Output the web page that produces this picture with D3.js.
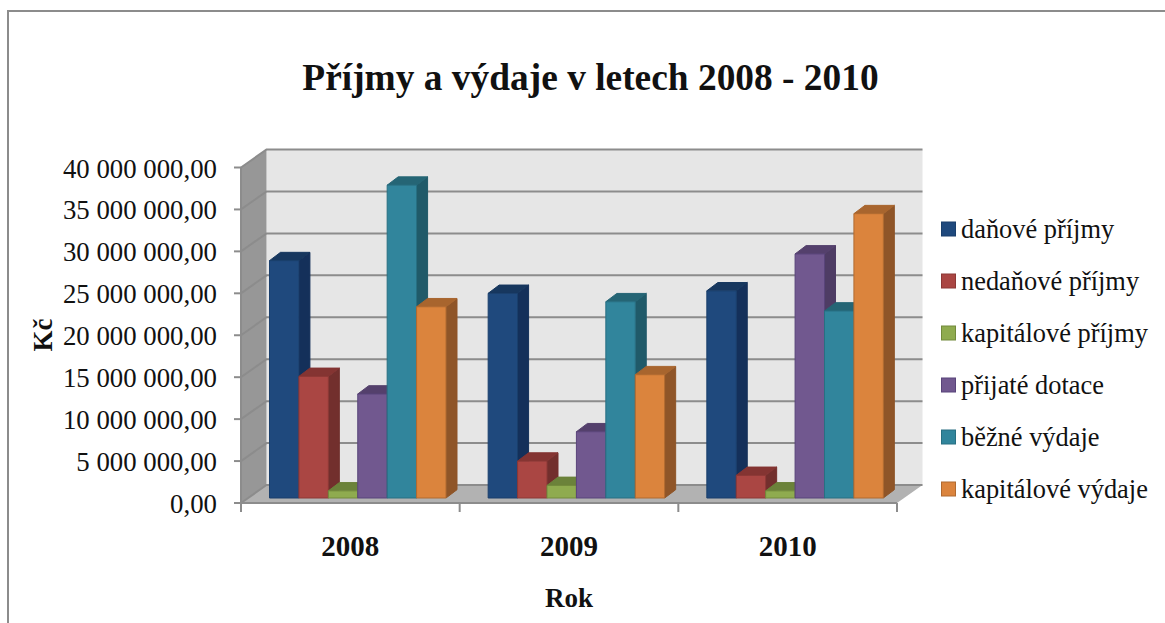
<!DOCTYPE html>
<html>
<head>
<meta charset="utf-8">
<title>Příjmy a výdaje v letech 2008 - 2010</title>
<style>
  html, body { margin: 0; padding: 0; background: #fff; }
  svg { display: block; }
  text { font-family: "Liberation Serif", serif; fill: #111; }
</style>
<script src="https://cdn.jsdelivr.net/npm/d3@7"></script>
</head>
<body>
<svg width="1165" height="623"></svg>
<script>
var years = ["2008", "2009", "2010"];
var seriesNames = ["daňové příjmy", "nedaňové příjmy", "kapitálové příjmy", "přijaté dotace", "běžné výdaje", "kapitálové výdaje"];
var danove = [28300000, 24400000, 24700000];
var nedanove = [14500000, 4400000, 2700000];
var kapitalovePrijmy = [850000, 1500000, 850000];
var dotace = [12400000, 7900000, 29100000];
var bezne = [37300000, 23400000, 22300000];
var kapitaloveVydaje = [22800000, 14700000, 33900000];
var yTicks = [0, 5000000, 10000000, 15000000, 20000000, 25000000, 30000000, 35000000, 40000000];
var tickLabels = ["0,00", "5 000 000,00", "10 000 000,00", "15 000 000,00", "20 000 000,00", "25 000 000,00", "30 000 000,00", "35 000 000,00", "40 000 000,00"];

var seriesValues = [danove, nedanove, kapitalovePrijmy, dotace, bezne, kapitaloveVydaje];
var colors = [
  { front: "#1f497d", top: "#17375e", side: "#14305a", edge: "#1a3f6c" },
  { front: "#aa4643", top: "#843432", side: "#722f2d", edge: "#8c3836" },
  { front: "#8fab4f", top: "#6b823a", side: "#627835", edge: "#728a3c" },
  { front: "#71588f", top: "#54406c", side: "#4e3c64", edge: "#59447a" },
  { front: "#31859c", top: "#256575", side: "#205a69", edge: "#286f82" },
  { front: "#db843d", top: "#a8652e", side: "#8f5528", edge: "#b06a30" }
];

var svg = d3.select("svg");

var frontLeft = 241, frontRight = 897, frontBase = 503, frontTop = 167.5;
var depthX = 25.5, depthY = 18;
var barDepthX = 11, barDepthY = 8.3, barBase = 498;

var y = d3.scaleLinear().domain([0, 40000000]).range([frontBase, frontTop]);
var x = d3.scaleBand().domain(years).range([frontLeft, frontRight]);
var xSeries = d3.scaleBand().domain(d3.range(6)).range([28.5, 205]);

function pts(a) { return a.map(function(p) { return p.join(","); }).join(" "); }

// frame
svg.append("path")
  .attr("d", "M8,623V11H1165")
  .attr("fill", "none").attr("stroke", "#8c8c8c").attr("stroke-width", 2);

// walls and floor
svg.append("polygon")
  .attr("points", pts([[frontLeft + depthX, y(40000000) - depthY], [frontRight + depthX, y(40000000) - depthY], [frontRight + depthX, y(0) - depthY], [frontLeft + depthX, y(0) - depthY]]))
  .attr("fill", "#e6e6e6");
svg.append("polygon")
  .attr("points", pts([[frontLeft, y(40000000)], [frontLeft + depthX, y(40000000) - depthY], [frontLeft + depthX, y(0) - depthY], [frontLeft, y(0)]]))
  .attr("fill", "#979797");
svg.append("polygon")
  .attr("points", pts([[frontLeft, y(0)], [frontLeft + depthX, y(0) - depthY], [frontRight + depthX, y(0) - depthY], [frontRight, y(0)]]))
  .attr("fill", "#b2b2b2");

// gridlines on the walls
var grid = svg.append("g").attr("fill", "none").attr("stroke", "#8c8c8c").attr("stroke-width", 2);
yTicks.forEach(function(t) {
  grid.append("polyline")
    .attr("points", pts([[frontLeft, y(t)], [frontLeft + depthX, y(t) - depthY], [frontRight + depthX, y(t) - depthY]]));
});

// axis lines + ticks
var axisLines = svg.append("g").attr("stroke", "#8c8c8c").attr("stroke-width", 2).attr("fill", "none");
axisLines.append("line").attr("x1", frontLeft).attr("x2", frontRight).attr("y1", y(0)).attr("y2", y(0));
axisLines.append("line").attr("x1", frontLeft).attr("x2", frontLeft).attr("y1", y(0)).attr("y2", y(40000000));
yTicks.forEach(function(t) {
  axisLines.append("line").attr("x1", frontLeft - 7).attr("x2", frontLeft).attr("y1", y(t)).attr("y2", y(t));
});
years.concat(["end"]).forEach(function(yr) {
  var px = yr === "end" ? frontRight : x(yr);
  axisLines.append("line").attr("x1", px).attr("x2", px).attr("y1", y(0)).attr("y2", y(0) + 9);
});

// bars, left to right so the next bar covers the side of the previous one
years.forEach(function(yr, yi) {
  seriesValues.forEach(function(vals, si) {
    var left = x(yr) + xSeries(si);
    var w = xSeries.bandwidth();
    var h = frontBase - y(vals[yi]);
    var top = barBase - h;
    var c = colors[si];
    var g = svg.append("g").attr("class", "bar").attr("stroke-linejoin", "round").attr("stroke-width", 1);
    g.append("polygon")
      .attr("points", pts([[left + w, top], [left + w + barDepthX, top - barDepthY], [left + w + barDepthX, barBase - barDepthY], [left + w, barBase]]))
      .attr("fill", c.side).attr("stroke", c.side);
    g.append("polygon")
      .attr("points", pts([[left, top], [left + barDepthX, top - barDepthY], [left + w + barDepthX, top - barDepthY], [left + w, top]]))
      .attr("fill", c.top).attr("stroke", c.top);
    g.append("rect")
      .attr("x", left).attr("y", top).attr("width", w).attr("height", h)
      .attr("fill", c.front).attr("stroke", c.edge);
  });
});

// tick labels
svg.append("g").selectAll("text").data(yTicks).join("text")
  .attr("x", 217).attr("y", function(d) { return y(d) + 10; })
  .attr("text-anchor", "end").attr("font-size", 26.8)
  .text(function(d, i) { return tickLabels[i]; });

svg.append("g").selectAll("text").data(years).join("text")
  .attr("x", function(d) { return x(d) + x.bandwidth() / 2; }).attr("y", 556)
  .attr("text-anchor", "middle").attr("font-size", 29).attr("font-weight", "bold")
  .text(function(d) { return d; });

svg.append("text").attr("x", 569).attr("y", 607)
  .attr("text-anchor", "middle").attr("font-size", 27).attr("font-weight", "bold").text("Rok");

svg.append("text").attr("transform", "translate(52,335) rotate(-90)")
  .attr("text-anchor", "middle").attr("font-size", 27).attr("font-weight", "bold").text("Kč");

svg.append("text").attr("x", 590.5).attr("y", 90)
  .attr("text-anchor", "middle").attr("font-size", 37.4).attr("font-weight", "bold")
  .text("Příjmy a výdaje v letech 2008 - 2010");

// legend
var legendY = d3.scalePoint().domain(d3.range(6)).range([229, 489]);
var legend = svg.append("g").selectAll("g").data(seriesNames).join("g")
  .attr("transform", function(d, i) { return "translate(941," + legendY(i) + ")"; });
legend.append("rect")
  .attr("x", 0.5).attr("y", -7).attr("width", 14).attr("height", 14)
  .attr("fill", function(d, i) { return colors[i].front; })
  .attr("stroke", function(d, i) { return colors[i].edge; });
legend.append("text")
  .attr("x", 20).attr("y", 9).attr("font-size", 26.4)
  .text(function(d) { return d; });
</script>
</body>
</html>
